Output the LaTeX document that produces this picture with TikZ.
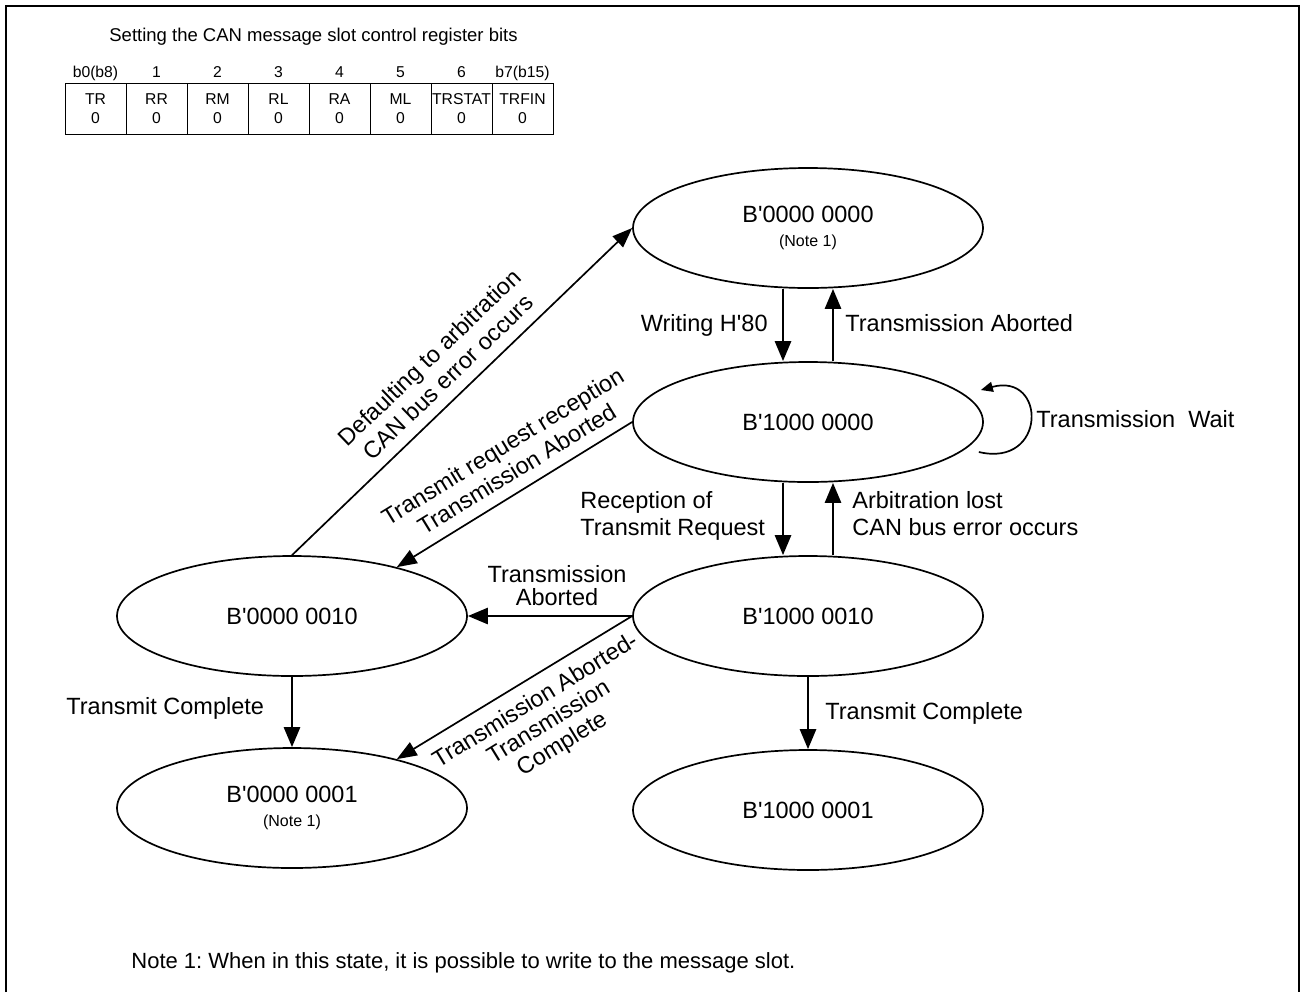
\documentclass[tikz,border=0pt]{standalone}
\usepackage{fontspec}
\setmainfont{Liberation Sans}
\usetikzlibrary{shapes.geometric,arrows.meta,calc}
\newcommand{\apos}{\textquotesingle}
\frenchspacing
\begin{document}
\begin{tikzpicture}[x=0.5pt,y=-0.5pt,
  state/.style={ellipse, draw, line width=0.85pt, minimum width=175pt, minimum height=60pt, inner sep=0pt, align=center, font=\fontsize{11.75}{12}\selectfont},
  lbl/.style={inner sep=0pt, font=\fontsize{11.75}{13.5}\selectfont},
  slbl/.style={inner sep=5.5pt, align=center, font=\fontsize{11.75}{13.5}\selectfont},
  arr/.style={line width=1.35pt, -{Triangle[length=10pt,width=8pt]}},
  darr/.style={line width=0.85pt, -{Triangle[length=10pt,width=7.5pt]}},
  cell/.style={draw, line width=0.5pt, minimum width=30.5pt, minimum height=25.5pt, inner sep=0pt, align=center, font=\fontsize{7.85}{9.5}\selectfont},
  hdr/.style={inner sep=0pt, anchor=base, font=\fontsize{7.85}{9.5}\selectfont}
]
\useasboundingbox (0,0) rectangle (1300,992);
% frame (open at bottom)
\draw[line width=1.15pt] (6.2,992) -- (6.2,6) -- (1298.8,6) -- (1298.8,992);

% register table
\node[inner sep=0pt, anchor=base, font=\fontsize{9.25}{11}\selectfont] (title) at (313.5,41.5) {Setting the CAN message slot control register bits};
\foreach \i/\t/\h in {0/TR/b0(b8),1/RR/1,2/RM/2,3/RL/3,4/RA/4,5/ML/5,6/TRSTAT/6,7/TRFIN/b7(b15)}{
  \node[cell] (c\i) at (95.5+61*\i,108.5) {\t\\0};
  \node[hdr] (h\i) at (95.5+61*\i,77.5) {\h};
}

% states
\node[state] (E0) at (808,228) {B\apos0000 0000\\{\fontsize{8}{12}\selectfont (Note 1)}};
\node[state] (E1) at (808,422) {B\apos1000 0000};
\node[state] (E2) at (808,616) {B\apos1000 0010};
\node[state] (E3) at (808,810) {B\apos1000 0001};
\node[state] (E4) at (292,616) {B\apos0000 0010};
\node[state] (E5) at (292,808) {B\apos0000 0001\\{\fontsize{8}{12}\selectfont (Note 1)}};

% transitions
\draw[arr] ([xshift=-12.5pt]E0.south) -- ([xshift=-12.5pt]E1.north);
\draw[arr] ([xshift=12.5pt]E1.north) -- ([xshift=12.5pt]E0.south);
\draw[arr] ([xshift=-12.5pt]E1.south) -- ([xshift=-12.5pt]E2.north);
\draw[arr] ([xshift=12.5pt]E2.north) -- ([xshift=12.5pt]E1.south);
\draw[arr] (E2.south) -- (E3.north);
\draw[arr] (E4.south) -- (E5.north);
\draw[arr] (E2.west) -- (E4.east);
\draw[darr] (E4.north) -- node[slbl, pos=0.5, rotate=43.9, anchor=south] {Defaulting to arbitration\\CAN bus error occurs} (E0.west);
\draw[darr] (E1.west) -- node[slbl, pos=0.445, rotate=31.5, anchor=south] {Transmit request reception\\Transmission Aborted} (E4.25);
\draw[darr] (E2.west) -- node[slbl, pos=0.46, rotate=31.5, anchor=north, font=\fontsize{11.75}{12.75}\selectfont] {Transmission Aborted-\\Transmission\\Complete} (E5.25);
\draw[line width=0.85pt, -{Triangle[length=6pt,width=5pt]}] ([shift={(-5,30)}]E1.east) .. controls +(68,16) and +(66,-18) .. ([shift={(-3,-32)}]E1.east);

% labels
\node[lbl, anchor=base east] (l1) at (768,331) {Writing H\apos80};
\node[lbl, anchor=base west] (l2) at (845,331) {Transmission Aborted};
\node[lbl, anchor=base west] (l3) at (1036,427) {Transmission\ \ Wait};
\node[lbl, align=left, anchor=west] (l4) at (580,516) {Reception of\\Transmit Request};
\node[lbl, align=left, anchor=west] (l5) at (852,514) {Arbitration lost\\CAN bus error occurs};
\node[lbl, align=center, font=\fontsize{11.75}{11.5}\selectfont] (l6) at (557,586) {Transmission\\Aborted};
\node[lbl, anchor=base west] (l7) at (66,714) {Transmit Complete};
\node[lbl, anchor=base west] (l8) at (825,719) {Transmit Complete};
\node[lbl, anchor=base west, font=\fontsize{11}{13}\selectfont] (note) at (131,968) {Note 1: When in this state, it is possible to write to the message slot.};
\end{tikzpicture}
\end{document}
